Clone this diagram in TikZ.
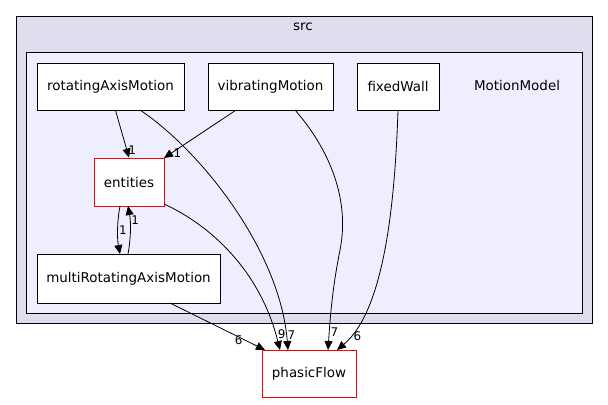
\documentclass[tikz,border=0pt]{standalone}
\usepackage{fontspec}
\setmainfont{DejaVu Sans}
\usetikzlibrary{arrows.meta}
\definecolor{outerf}{HTML}{DDDDEE}
\definecolor{innerf}{HTML}{EEEEFF}
\begin{document}
\begin{tikzpicture}[x=1bp,y=-1bp,
  box/.style={draw=black,fill=white,line width=0.8bp},
  red/.style={draw=red,fill=white,line width=0.8bp},
  ed/.style={-{Triangle[length=9bp,width=8bp]},line width=0.8bp},
  lab/.style={font=\fontsize{12}{14}\selectfont,inner sep=1bp},
  every node/.style={font=\fontsize{13.5}{16}\selectfont}]
\useasboundingbox (0,0) rectangle (608,404);
\draw[fill=outerf,line width=0.8bp] (16,16) rectangle (592,323);
\node (src) at (303,27) {src};
\draw[fill=innerf,line width=0.8bp] (26,52) rectangle (582,313);
\node (mm) at (517,85) {MotionModel};
\node[box,minimum width=147bp,minimum height=47bp] (rot) at (110.5,86.5) {rotatingAxisMotion};
\node[box,minimum width=125bp,minimum height=47bp] (vib) at (270.5,86.5) {vibratingMotion};
\node[box,minimum width=82bp,minimum height=47bp] (fw) at (398,86.5) {fixedWall};
\node[red,minimum width=70bp,minimum height=48bp] (ent) at (129,182) {entities};
\node[box,minimum width=183bp,minimum height=49bp] (mra) at (128.5,278.5) {multiRotatingAxisMotion};
\node[red,minimum width=94bp,minimum height=47bp] (pf) at (309,373.5) {phasicFlow};
\draw[ed] (rot.south) +(5,0) -- (ent.north) node[lab,pos=0.85,right] {1};
\draw[ed] (vib.south) +(-35,0) -- (164,158) node[lab,pos=0.9,right=1bp] {1};
\draw[ed] (140,110) .. controls (200,150) and (280,250) .. (288,350) node[lab,pos=0.95,right] {7};
\draw[ed] (295,110) .. controls (330,150) and (350,200) .. (340,250) .. controls (332,290) and (330,320) .. (328,350) node[lab,pos=0.8,right] {7};
\draw[ed] (398,110) .. controls (395,200) and (385,310) .. (337,350) node[lab,pos=0.9,right=2bp] {6};
\draw[ed] (164,204) .. controls (210,225) and (260,270) .. (280,350) node[lab,pos=0.93,right=1bp] {9};
\draw[ed] (120,206) .. controls (117,222) and (117,238) .. (120,254) node[lab,pos=0.5,right] {1};
\draw[ed] (128,254) .. controls (131,238) and (131,222) .. (128,206) node[lab,pos=0.7,right] {1};
\draw[ed] (170,303) -- (265,350) node[lab,pos=0.8,left=2bp] {6};
\end{tikzpicture}
\end{document}
